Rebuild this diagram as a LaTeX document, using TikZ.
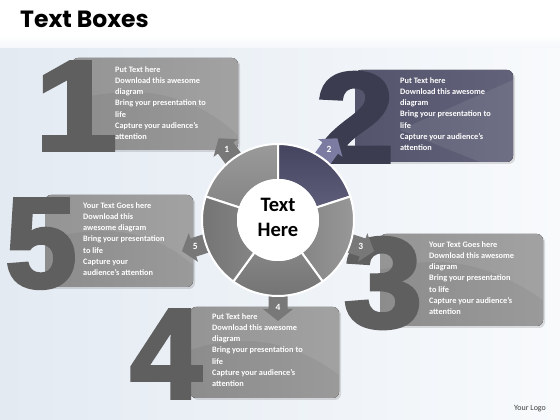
\documentclass[tikz,border=0pt]{standalone}
\usepackage{fontspec}
\setmainfont{Carlito}
\newfontfamily\titlefont{Poppins}
\newfontfamily\numfont{Liberation Sans}[FakeBold=3]
\definecolor{bgA}{HTML}{E3EAF2}
\definecolor{bgB}{HTML}{F8FAFC}
\definecolor{boxG}{HTML}{8C8C8C}
\definecolor{boxGl}{HTML}{9A9A9A}
\definecolor{numG}{HTML}{5F5F5F}
\definecolor{boxB}{HTML}{54546C}
\definecolor{boxBl}{HTML}{62627A}
\definecolor{numB}{HTML}{3C3C50}
\definecolor{arrG}{HTML}{787878}
\definecolor{arrB}{HTML}{7C7CA2}
\definecolor{segA}{HTML}{9A9A9A}
\definecolor{segB}{HTML}{858585}
\definecolor{segC}{HTML}{727272}
\definecolor{segD1}{HTML}{44445F}
\definecolor{segD2}{HTML}{5E5E7A}
\definecolor{logoG}{HTML}{404040}
\pgfdeclareradialshading{innerglow}{\pgfpoint{0bp}{0bp}}{color(0bp)=(white); color(28bp)=(white); color(43bp)=(white!80!black); color(50bp)=(white!60!black)}
\begin{document}
\begin{tikzpicture}[x=1pt,y=1pt,
  boxtxt/.style={anchor=north west, inner sep=0, align=left, text=white, font=\bfseries\fontsize{8.3}{11.3}\selectfont},
  numeral/.style={anchor=base, inner sep=0, font=\numfont\bfseries\fontsize{128}{128}\selectfont},
  tbox/.style={rounded corners=6pt},
  shine/.style={white, opacity=0.08},
  arrlab/.style={text=white, font=\bfseries\fontsize{9.5}{11}\selectfont, inner sep=0},
  seg/.style={draw=white, line width=2pt}]
\useasboundingbox (0,0) rectangle (560,420);
% background
\fill[left color=bgA, right color=bgB] (0,0) rectangle (560,384);
\fill[top color=white, bottom color=bgA!40!white] (0,372) rectangle (560,384);
\fill[white] (0,384) rectangle (560,420);
% title
\node[anchor=base west, inner sep=0, font=\titlefont\bfseries\fontsize{23.5}{23.5}\selectfont] (title) at (20,392) {Text Boxes};
\node[inner sep=0, text=logoG, font=\fontsize{8}{10}\selectfont] (logo) at (530,11) {Your Logo};
% box shadows
\fill[black, opacity=0.12, tbox] (74,268) rectangle (240,360);
\fill[black, opacity=0.12, tbox] (357,256) rectangle (515,348);
\fill[black, opacity=0.12, tbox] (382,92) rectangle (545,184);
\fill[black, opacity=0.12, tbox] (192,20) rectangle (341,111);
\fill[black, opacity=0.12, tbox] (47,131) rectangle (195,223);
% boxes
\fill[tbox, left color=boxG, right color=boxGl] (72,270) rectangle (238,362);
\fill[tbox, left color=boxB, right color=boxBl] (355,258) rectangle (513,350);
\fill[tbox, left color=boxG, right color=boxGl] (380,94) rectangle (543,186);
\fill[tbox, left color=boxG, right color=boxGl] (190,22) rectangle (339,113);
\fill[tbox, left color=boxG, right color=boxGl] (45,133) rectangle (193,225);
% shine
\begin{scope}
  \clip[tbox] (72,270) rectangle (238,362);
  \fill[shine] (72,320) .. controls (150,340) and (200,320) .. (238,285) -- (238,362) -- (72,362) -- cycle;
\end{scope}
\begin{scope}
  \clip[tbox] (355,258) rectangle (513,350);
  \fill[shine] (400,290) -- (513,340) -- (513,258) -- (480,258) -- cycle;
\end{scope}
\begin{scope}
  \clip[tbox] (380,94) rectangle (543,186);
  \fill[shine] (380,150) .. controls (450,170) and (500,150) .. (543,120) -- (543,186) -- (380,186) -- cycle;
\end{scope}
\begin{scope}
  \clip[tbox] (190,22) rectangle (339,113);
  \fill[shine] (190,70) .. controls (250,90) and (300,75) .. (339,45) -- (339,113) -- (190,113) -- cycle;
\end{scope}
\begin{scope}
  \clip[tbox] (45,133) rectangle (193,225);
  \fill[shine] (45,180) .. controls (110,200) and (160,185) .. (193,155) -- (193,225) -- (45,225) -- cycle;
\end{scope}
% numerals
\node[numeral, text=numG] (n1) at (76,270) {\scalebox{1.15}[1]{1}};
\node[numeral, text=numB] (n2) at (355,258) {\scalebox{1.1}[1]{2}};
\node[numeral, text=numG] (n3) at (383,93) {\scalebox{1.1}[1]{3}};
\node[numeral, text=numG] (n4) at (166,22) {4};
\node[numeral, text=numG] (n5) at (41,133) {5};
% texts
\node[boxtxt] (t1) at (115,354) {Put Text here\\Download this awesome\\diagram\\Bring your presentation to\\life\\Capture your audience's\\attention};
\node[boxtxt] (t2) at (400,343) {Put Text here\\Download this awesome\\diagram\\Bring your presentation to\\life\\Capture your audience's\\attention};
\node[boxtxt] (t3) at (429,179) {Your Text Goes here\\Download this awesome\\diagram\\Bring your presentation\\to life\\Capture your audience's\\attention};
\node[boxtxt] (t4) at (212,107) {Put Text here\\Download this awesome\\diagram\\Bring your presentation to\\life\\Capture your audience's\\attention};
\node[boxtxt] (t5) at (83,218) {Your Text Goes here\\Download this\\awesome diagram\\Bring your presentation\\to life\\Capture your\\audience's attention};
% arrows
\foreach \ang/\col in {126/arrG, 54/arrB, -18/arrG, -90/arrG, 198/arrG}{
  \begin{scope}[shift={(278,200)}, rotate=\ang]
    \fill[\col] (66,-9.5) -- (89,-9.5) -- (89,-15) -- (101,0) -- (89,15) -- (89,9.5) -- (66,9.5) -- cycle;
  \end{scope}
}
% ring
\begin{scope}[shift={(278,200)}]
  \fill[seg, top color=segA, bottom color=segB] (162:76) arc[start angle=162,end angle=90,radius=76] -- (90:40) arc[start angle=90,end angle=162,radius=40] -- cycle;
  \fill[seg, top color=segD1, bottom color=segD2] (90:76) arc[start angle=90,end angle=18,radius=76] -- (18:40) arc[start angle=18,end angle=90,radius=40] -- cycle;
  \fill[seg, left color=segB, right color=segA] (18:76) arc[start angle=18,end angle=-54,radius=76] -- (-54:40) arc[start angle=-54,end angle=18,radius=40] -- cycle;
  \fill[seg, top color=segB, bottom color=segC] (-54:76) arc[start angle=-54,end angle=-126,radius=76] -- (-126:40) arc[start angle=-126,end angle=-54,radius=40] -- cycle;
  \fill[seg, left color=segC, right color=segB] (-126:76) arc[start angle=-126,end angle=-198,radius=76] -- (162:40) arc[start angle=162,end angle=234,radius=40] -- cycle;
  \shade[shading=innerglow] (0,0) circle (41);
  \node[font=\bfseries\fontsize{20.5}{25.5}\selectfont, align=center, inner sep=0] (center) at (0,2.5) {Text\\Here};
  \node[arrlab] (a1) at (126:87) {1};
  \node[arrlab] (a2) at (54:87) {2};
  \node[arrlab] (a3) at (-18:87) {3};
  \node[arrlab] (a4) at (-90:87) {4};
  \node[arrlab] (a5) at (198:87) {5};
\end{scope}
\end{tikzpicture}
\end{document}
